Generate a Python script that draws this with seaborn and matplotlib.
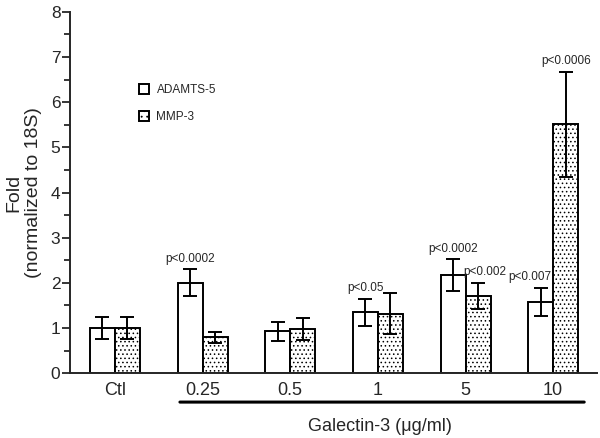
import numpy as np
import pandas as pd
import matplotlib
matplotlib.use("Agg")
import matplotlib.pyplot as plt
import seaborn as sns
from matplotlib.ticker import MultipleLocator
from matplotlib.patches import Patch

# Data
doses = ["Ctl", "0.25", "0.5", "1", "5", "10"]
adamts5 = [1.0, 2.0, 0.93, 1.35, 2.17, 1.58]
adamts5_err = [0.25, 0.3, 0.21, 0.3, 0.35, 0.31]
mmp3 = [1.0, 0.79, 0.98, 1.32, 1.71, 5.51]
mmp3_err = [0.25, 0.13, 0.25, 0.45, 0.29, 1.16]
pvals_adamts = [None, "p<0.0002", None, "p<0.05", "p<0.0002", "p<0.007"]
pvals_mmp = [None, None, None, None, "p<0.002", "p<0.0006"]

df = pd.DataFrame({
    "dose": doses * 2,
    "gene": ["ADAMTS-5"] * len(doses) + ["MMP-3"] * len(doses),
    "fold": adamts5 + mmp3,
})

sns.set_style("ticks")
plt.rcParams["font.family"] = ["Liberation Sans", "DejaVu Sans"]
plt.rcParams["hatch.linewidth"] = 0.6

fig = plt.figure(figsize=(6, 4.38), dpi=100)
ax = fig.add_axes([0.117, 0.148, 0.878, 0.825])

sns.barplot(data=df, x="dose", y="fold", hue="gene", order=doses,
            palette=["white", "white"], edgecolor="black", linewidth=1.4,
            width=0.57, errorbar=None, legend=False, ax=ax)

bar_groups = list(ax.containers)
errs = [adamts5_err, mmp3_err]
vals = [adamts5, mmp3]
for k, cont in enumerate(bar_groups):
    for i, bar in enumerate(cont):
        if k == 1:
            bar.set_hatch("....")
        cx = bar.get_x() + bar.get_width() / 2
        ax.errorbar(cx, vals[k][i], yerr=errs[k][i], color="black",
                    capsize=5, elinewidth=1.4, capthick=1.4)

# p-value labels
for k, (cont, labels) in enumerate(zip(bar_groups, [pvals_adamts, pvals_mmp])):
    for i, bar in enumerate(cont):
        lab = labels[i]
        if lab is None:
            continue
        cx = bar.get_x() + bar.get_width() / 2
        top = vals[k][i] + errs[k][i]
        if doses[i] == "10" and k == 0:
            cx -= 0.12
        if doses[i] == "5" and k == 1:
            cx += 0.08
        ax.text(cx, top + 0.1, lab, ha="center", va="bottom", fontsize=8.5)

ax.set_xlim(-0.51, 5.5)
ax.set_ylim(0, 8)
ax.yaxis.set_major_locator(MultipleLocator(1))
ax.yaxis.set_minor_locator(MultipleLocator(0.5))
ax.tick_params(axis="y", which="major", length=6, width=1.3, labelsize=12.5, pad=1)
ax.tick_params(axis="y", which="minor", length=4, width=1.3)
ax.tick_params(axis="x", length=0, labelsize=13, pad=6)
for s in ["left", "bottom"]:
    ax.spines[s].set_linewidth(1.4)
sns.despine(ax=ax)

ax.set_xlabel("")
ax.set_ylabel("Fold\n(normalized to 18S)", fontsize=14, linespacing=1.25)
ax.yaxis.set_label_coords(-0.053, 0.5)

# underline for galectin-3 doses
ax.annotate("", xy=(0.203, -0.08), xytext=(0.981, -0.08),
            xycoords="axes fraction",
            arrowprops=dict(arrowstyle="-", lw=2.2, color="black"))
ax.text(0.588, -0.125, "Galectin-3 (\u03bcg/ml)", transform=ax.transAxes,
        ha="center", va="top", fontsize=13)

handles = [Patch(facecolor="white", edgecolor="black", linewidth=1.4),
           Patch(facecolor="white", edgecolor="black", linewidth=1.4, hatch="...")]
ax.legend(handles, ["ADAMTS-5", "MMP-3"], loc="upper left",
          bbox_to_anchor=(0.11, 0.83), frameon=False, fontsize=8.5,
          handlelength=0.9, handleheight=0.9, labelspacing=1.3,
          handletextpad=0.6)

fig.savefig("out.png", dpi=100)
